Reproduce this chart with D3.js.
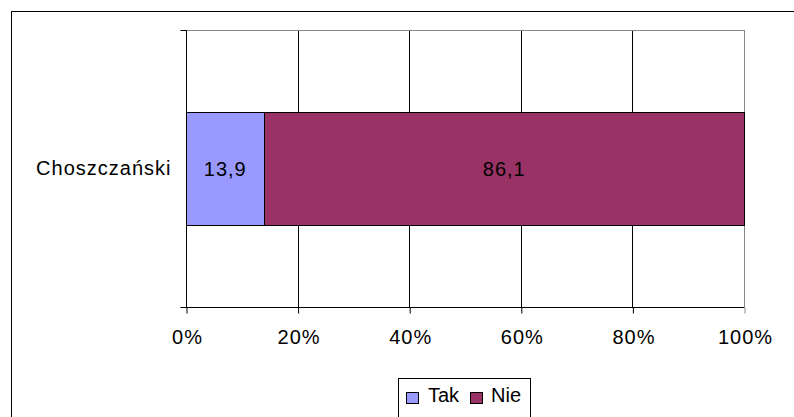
<!DOCTYPE html>
<html><head><meta charset="utf-8">
<script src="https://cdn.jsdelivr.net/npm/d3@7"></script>
<style>body{margin:0;background:#fff;}svg{display:block;font-family:"Liberation Sans",Arial,sans-serif;}</style>
</head><body>
<script>
const categories = ["Choszczański"];
const seriesNames = ["Tak", "Nie"];
const tak = [13.9];
const nie = [86.1];
const seriesColors = ["#9999FF", "#993366"];
const tickValues = [0, 20, 40, 60, 80, 100];

const W = 794, H = 417, FS = 20, LS = 1;
const FF = "Liberation Sans, Arial, sans-serif";
const svg = d3.select("body").append("svg").attr("width", W).attr("height", H);
svg.append("rect").attr("x", 11.5).attr("y", 11.5).attr("width", W).attr("height", H)
  .attr("fill", "#fff").attr("stroke", "#000").attr("stroke-width", 1);

const m = {l: 186, t: 30, r: 744, b: 307};
const x = d3.scaleLinear().domain([0, 100]).range([m.l, m.r]);
const y = d3.scaleBand().domain(categories).range([m.t, m.b]).padding(0.42);

// gridlines
svg.append("g").selectAll("line").data(tickValues.slice(1, -1)).join("line")
  .attr("x1", d => Math.round(x(d)) + 0.5).attr("x2", d => Math.round(x(d)) + 0.5)
  .attr("y1", m.t).attr("y2", m.b).attr("stroke", "#000");
// plot border top/right grey
svg.append("line").attr("x1", m.l).attr("x2", m.r + 0.5).attr("y1", m.t + 0.5).attr("y2", m.t + 0.5).attr("stroke", "#888");
svg.append("line").attr("x1", m.r + 0.5).attr("x2", m.r + 0.5).attr("y1", m.t).attr("y2", m.b).attr("stroke", "#888");

// bars
const stackData = categories.map((c, i) => ({cat: c, Tak: tak[i], Nie: nie[i]}));
const stack = d3.stack().keys(seriesNames)(stackData);
const gBars = svg.append("g");
stack.forEach((s, si) => {
  gBars.selectAll(null).data(s).join("rect")
    .attr("x", d => Math.round(x(d[0])) + 0.5)
    .attr("y", d => Math.round(y(d.data.cat)) + 0.5)
    .attr("width", d => Math.round(x(d[1])) - Math.round(x(d[0])))
    .attr("height", Math.round(y.bandwidth()))
    .attr("fill", seriesColors[si]).attr("stroke", "#000");
  gBars.selectAll(null).data(s).join("text")
    .attr("x", d => (x(d[0]) + x(d[1])) / 2 + LS / 2)
    .attr("y", d => y(d.data.cat) + y.bandwidth() / 2)
    .attr("dy", "0.35em").attr("text-anchor", "middle")
    .attr("font-size", FS).attr("font-family", FF).attr("letter-spacing", LS).attr("fill", "#000")
    .text(d => (d[1] - d[0]).toFixed(1).replace(".", ","));
});

// x axis
const xAxis = d3.axisBottom(x).tickValues(tickValues).tickFormat(d => d + "%").tickSize(6).tickPadding(16);
const gx = svg.append("g").attr("transform", `translate(0.5,${m.b + 0.5})`).call(xAxis);
gx.select(".domain").attr("d", `M${m.l - 6},0H${m.r}`).attr("stroke", "#000");
gx.selectAll(".tick line").attr("stroke", "#000");
gx.selectAll(".tick").filter(d => d === 100).select("line").attr("stroke", "#888");
gx.selectAll("text").attr("font-size", FS).attr("fill", "#000").attr("font-family", FF)
  .attr("letter-spacing", LS).attr("dx", LS / 2);

// y axis
const yAxis = d3.axisLeft(y).tickSize(0).tickPadding(15);
const gy = svg.append("g").attr("transform", `translate(${m.l + 0.5},0)`).call(yAxis);
gy.select(".domain").attr("d", `M-6,${m.t + 0.5}H0V${m.b + 0.5}`).attr("stroke", "#000").attr("fill", "none");
gy.selectAll("text").attr("font-size", FS).attr("fill", "#000").attr("font-family", FF).attr("letter-spacing", LS);

// legend
const lg = svg.append("g");
lg.append("rect").attr("x", 398.5).attr("y", 378.5).attr("width", 132).attr("height", 50).attr("fill", "#fff").attr("stroke", "#000");
const items = [{n: seriesNames[0], c: seriesColors[0], x: 406, tx: 428}, {n: seriesNames[1], c: seriesColors[1], x: 470, tx: 491}];
items.forEach(it => {
  lg.append("rect").attr("x", it.x + 0.5).attr("y", 392.5).attr("width", 12).attr("height", 11).attr("fill", it.c).attr("stroke", "#000");
  lg.append("text").attr("x", it.tx).attr("y", 402).attr("font-size", FS).attr("font-family", FF).attr("fill", "#000").text(it.n);
});
</script>
</body></html>
